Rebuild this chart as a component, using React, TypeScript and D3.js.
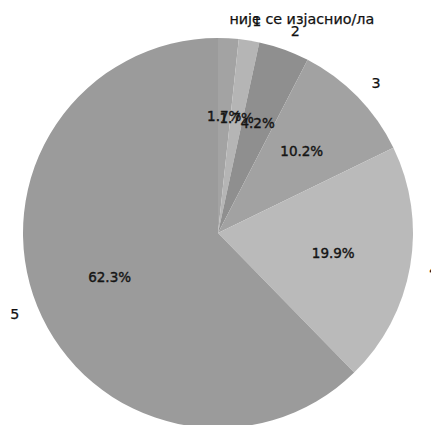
import React, { useRef, useEffect } from "react";
import * as d3 from "d3";

const labels = ["није се изјаснио/ла", "1", "2", "3", "4", "5"];
const values = [1.7, 1.7, 4.2, 10.2, 19.9, 62.3];
const colors = ["#a3a3a3", "#b5b5b5", "#8f8f8f", "#a2a2a2", "#bababa", "#9b9b9b"];

const App: React.FC = () => {
    const ref = useRef<SVGSVGElement | null>(null);

    useEffect(() => {
        const svg = d3.select(ref.current);
        svg.selectAll("*").remove();

        const width = 431;
        const height = 425;
        const cx = 218;
        const cy = 233;
        const radius = 195;

        const g = svg.append("g").attr("transform", `translate(${cx},${cy})`);

        const pie = d3
            .pie<number>()
            .sort(null)
            .value((d) => d);
        const arcs = pie(values);

        const arc = d3
            .arc<d3.PieArcDatum<number>>()
            .innerRadius(0)
            .outerRadius(radius);

        g.selectAll("path")
            .data(arcs)
            .enter()
            .append("path")
            .attr("d", arc)
            .attr("fill", (d, i) => colors[i]);

        const mid = (d: d3.PieArcDatum<number>) => (d.startAngle + d.endAngle) / 2;

        // outer category labels (like matplotlib labeldistance 1.1)
        g.selectAll(".lbl")
            .data(arcs)
            .enter()
            .append("text")
            .attr("class", "lbl")
            .attr("x", (d) => Math.sin(mid(d)) * radius * 1.1)
            .attr("y", (d) => -Math.cos(mid(d)) * radius * 1.1)
            .attr("text-anchor", (d) => (Math.sin(mid(d)) > 0 ? "start" : "end"))
            .attr("dominant-baseline", "central")
            .style("font-family", "DejaVu Sans")
            .style("font-size", "14.3px")
            .attr("fill", "#111")
            .attr("stroke", "#111")
            .attr("stroke-width", 0.25)
            .text((d, i) => labels[i]);

        // percentages (pctdistance 0.6)
        g.selectAll(".pct")
            .data(arcs)
            .enter()
            .append("text")
            .attr("class", "pct")
            .attr("x", (d) => Math.sin(mid(d)) * radius * 0.6)
            .attr("y", (d) => -Math.cos(mid(d)) * radius * 0.6)
            .attr("text-anchor", "middle")
            .attr("dominant-baseline", "central")
            .style("font-family", "DejaVu Sans")
            .style("font-size", "13.5px")
            .attr("fill", "#151515")
            .attr("stroke", "#151515")
            .attr("stroke-width", 0.4)
            .text((d) => `${d.data.toFixed(1)}%`);

        svg.attr("width", width).attr("height", height);
    }, []);

    return (
        <div style={{ position: "absolute", left: 0, top: 0 }}>
            <svg ref={ref} style={{ display: "block", background: "#ffffff" }}></svg>
        </div>
    );
};

export default App;
